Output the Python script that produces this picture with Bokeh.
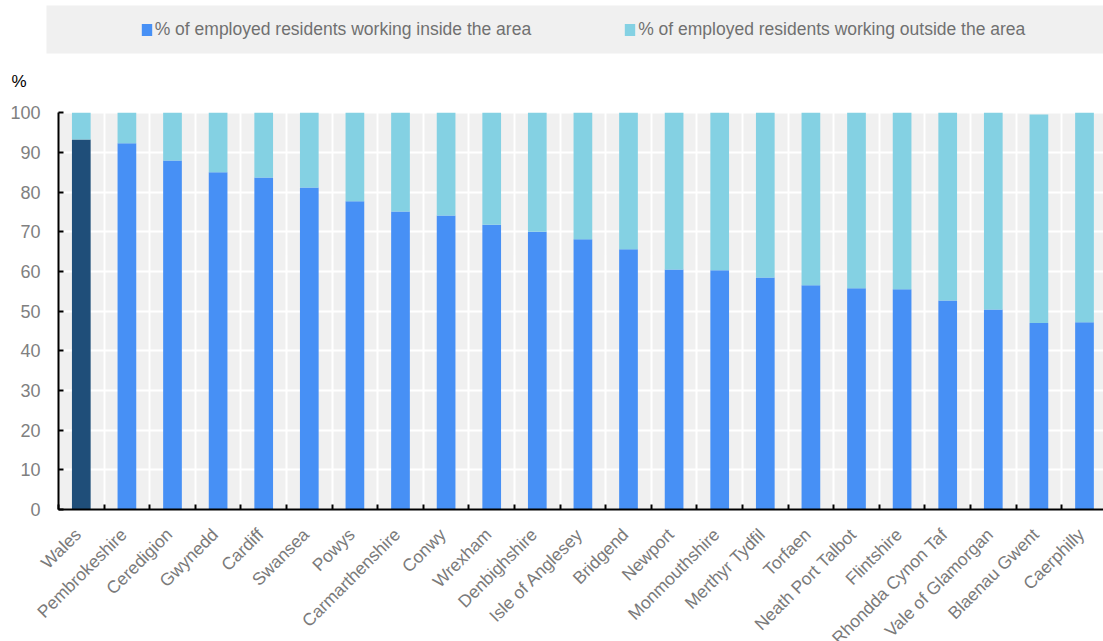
import math
from bokeh.plotting import figure
from bokeh.models import (ColumnDataSource, Range1d, FixedTicker, Legend, LegendItem,
                          Label, LabelSet, BoxAnnotation, CustomJSTickFormatter)
from bokeh.core.properties import value
from bokeh.embed import file_html
from bokeh.resources import INLINE

categories = ["Wales", "Pembrokeshire", "Ceredigion", "Gwynedd", "Cardiff", "Swansea",
              "Powys", "Carmarthenshire", "Conwy", "Wrexham", "Denbighshire",
              "Isle of Anglesey", "Bridgend", "Newport", "Monmouthshire", "Merthyr Tydfil",
              "Torfaen", "Neath Port Talbot", "Flintshire", "Rhondda Cynon Taf",
              "Vale of Glamorgan", "Blaenau Gwent", "Caerphilly"]
inside = [93.3, 92.3, 88.0, 85.0, 83.7, 81.2, 77.7, 75.1, 74.1, 71.8, 70.0, 68.1,
          65.6, 60.5, 60.3, 58.5, 56.5, 55.8, 55.5, 52.7, 50.4, 47.0, 47.2]
outside = [6.7, 7.7, 12.0, 15.0, 16.3, 18.8, 22.3, 24.9, 25.9, 28.2, 30.0, 31.9,
           34.4, 39.5, 39.7, 41.5, 43.5, 44.2, 44.5, 47.3, 49.6, 52.6, 52.8]
legend_labels = ["% of employed residents working inside the area",
                 "% of employed residents working outside the area"]
y_ticks = [0, 10, 20, 30, 40, 50, 60, 70, 80, 90, 100]
y_unit = "%"

FONT = "Liberation Sans"
C_WALES = "#1f4e79"
C_IN = "#4790f5"
C_OUT = "#84d1e3"
BG = "#f0f0f0"

W, H = 1103, 641
FRAME_L, FRAME_T, FRAME_B = 58, 112.3, 509   # plot-area edges (canvas px)
CAT_W = 45.6                                 # px per category
Y_PX = (FRAME_B - FRAME_T) / 100.0           # px per percent

n = len(categories)
centers = [i + 0.5 for i in range(n)]
totals = [a + b for a, b in zip(inside, outside)]
colors = [C_WALES if c == "Wales" else C_IN for c in categories]

src = ColumnDataSource(dict(x=centers, cat=categories, inside=inside,
                            total=totals, color=colors))

x_end = (W - FRAME_L) / CAT_W
p = figure(width=W, height=H, output_backend="svg", toolbar_location=None,
           x_range=Range1d(-FRAME_L / CAT_W, x_end),
           y_range=Range1d(-(H - FRAME_B) / Y_PX, FRAME_B / Y_PX),
           min_border=0, min_border_left=0, min_border_right=0,
           min_border_top=0, min_border_bottom=0)
p.background_fill_color = "white"
p.border_fill_color = "white"
p.outline_line_color = None

# grey plotting area
p.add_layout(BoxAnnotation(left=0, bottom=0, top=100, fill_color=BG, fill_alpha=1,
                           line_color=None, level="image"))

r_in = p.vbar(x="x", width=0.41, bottom=0, top="inside", fill_color="color",
              line_color=None, source=src)
r_out = p.vbar(x="x", width=0.41, bottom="inside", top="total", fill_color=C_OUT,
               line_color=None, source=src)

# axes placed inside the canvas at the data origin
p.xaxis.fixed_location = 0
p.xaxis.bounds = (0, x_end)
p.xaxis.ticker = FixedTicker(ticks=list(range(0, n + 1)))
p.xaxis.formatter = CustomJSTickFormatter(code="return ''")
p.xaxis.major_tick_in = 5
p.xaxis.major_tick_out = 0
p.xaxis.major_tick_line_width = 2
p.xaxis.major_tick_line_color = "black"
p.xaxis.minor_tick_line_color = None
p.xaxis.axis_line_width = 2
p.xaxis.axis_line_color = "black"

p.yaxis.fixed_location = 0
p.yaxis.bounds = (0, 100)
p.yaxis.ticker = FixedTicker(ticks=y_ticks)
p.yaxis.major_tick_in = 5
p.yaxis.major_tick_out = 0
p.yaxis.major_tick_line_width = 2
p.yaxis.major_tick_line_color = "black"
p.yaxis.minor_tick_line_color = None
p.yaxis.axis_line_width = 2
p.yaxis.axis_line_color = "black"
p.yaxis.major_label_text_font = FONT
p.yaxis.major_label_text_font_size = "18px"
p.yaxis.major_label_text_color = "#808080"
p.yaxis.major_label_standoff = 18

p.xgrid.ticker = FixedTicker(ticks=list(range(1, n)))
p.xgrid.cross_bounds = (0, 100)
p.xgrid.grid_line_color = "white"
p.xgrid.grid_line_width = 2
p.ygrid.cross_bounds = (0, x_end)
p.ygrid.grid_line_color = "white"
p.ygrid.grid_line_width = 2

# category labels, rotated 45 degrees, ending under each bar
p.add_layout(LabelSet(x="x", y=0, text="cat", source=src, angle=math.pi / 4,
                      text_align="right", text_baseline="middle",
                      x_offset=-3.3, y_offset=-22,
                      text_font=value(FONT), text_font_size=value("17.5px"),
                      text_color="#7a7a7a"))

# legend band
p.add_layout(BoxAnnotation(left=46, right=W, top=5, bottom=53,
                           left_units="canvas", right_units="canvas",
                           top_units="canvas", bottom_units="canvas",
                           fill_color=BG, fill_alpha=1, line_color=None))

legend = Legend(items=[LegendItem(label=legend_labels[0], renderers=[r_in], index=1),
                       LegendItem(label=legend_labels[1], renderers=[r_out], index=1)],
                orientation="horizontal", location=(139.7, H - 40), padding=0, margin=0,
                spacing=92, glyph_width=13, glyph_height=15, label_standoff=2,
                label_text_font=FONT, label_text_font_size="17.5px",
                label_text_color="#707070", border_line_color=None,
                background_fill_alpha=0)
p.add_layout(legend)

p.add_layout(Label(x=11, y=H - 81, x_units="screen", y_units="screen", text=y_unit,
                   text_font=FONT, text_font_size="17px", text_color="black",
                   text_baseline="alphabetic"))

open("out.html", "w").write(file_html(p, INLINE))
